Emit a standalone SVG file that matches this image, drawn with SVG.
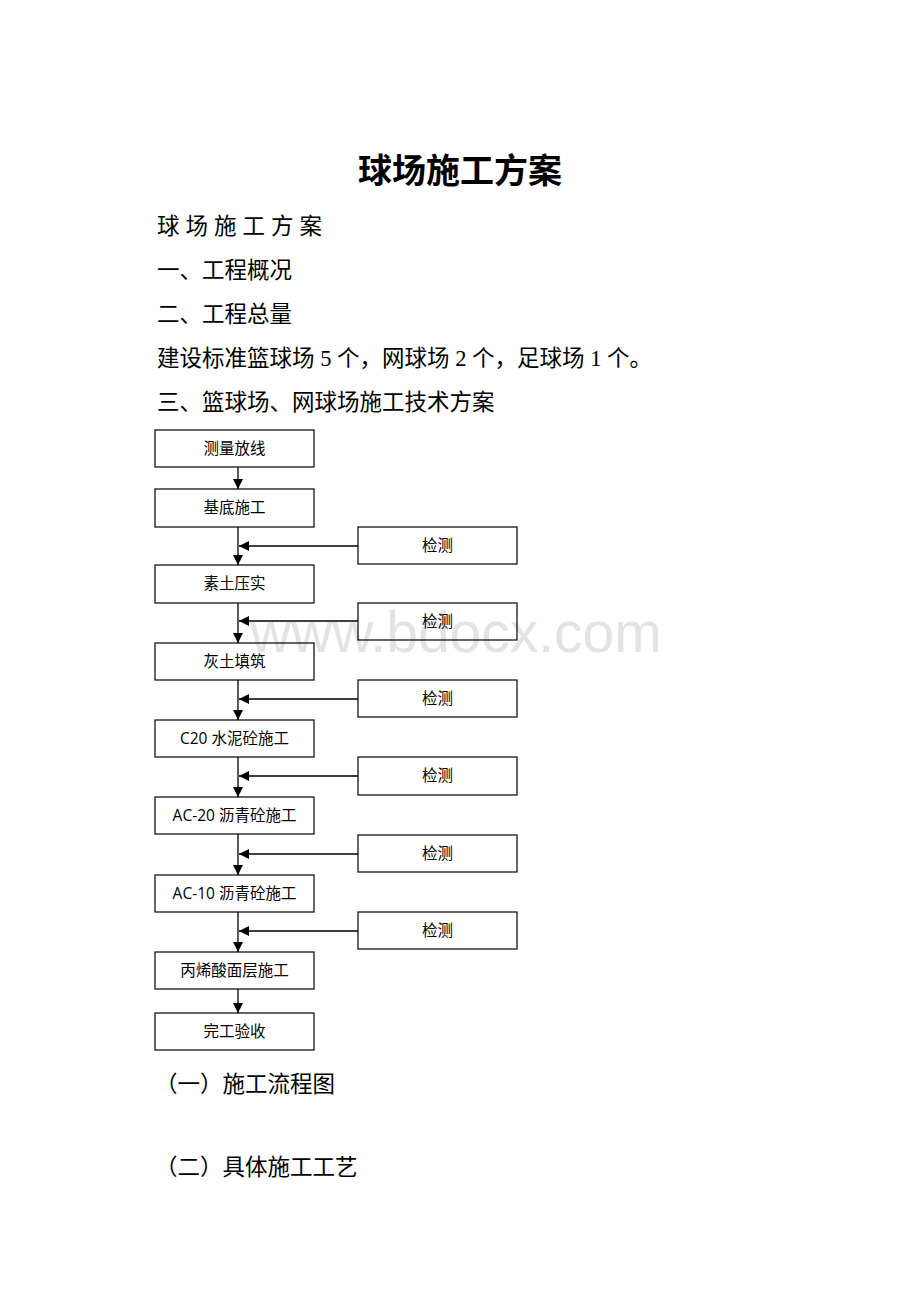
<svg xmlns="http://www.w3.org/2000/svg" width="920" height="1302" viewBox="0 0 920 1302">
<style>
.body{font-family:"Liberation Serif","Noto Sans CJK SC",serif;font-size:22.5px;fill:#000}
.title{font-family:"Liberation Serif","Noto Sans CJK SC",serif;font-size:34px;font-weight:bold;fill:#000}
.box{fill:none;stroke:#000;stroke-width:1.2}
.lbl{font-family:"Open Sans","Noto Sans CJK SC",sans-serif;font-size:15.5px;fill:#000;text-anchor:middle}
.ln{stroke:#000;stroke-width:1.3;fill:none}
.wm{font-family:"Liberation Sans",Arial,sans-serif;font-size:57px;fill:#e3e3e3}
</style>
<defs>
<marker id="ah" viewBox="0 0 10 10" refX="10" refY="5" markerWidth="10" markerHeight="10" markerUnits="userSpaceOnUse" orient="auto">
<path d="M0,0 L10,5 L0,10 z" fill="#000"/>
</marker>
</defs>
<rect width="920" height="1302" fill="#fff"/>
<text class="wm" x="250" y="652">www.bdocx.com</text>
<g id="texts">
<text class="title" x="460" y="183" text-anchor="middle">球场施工方案</text>
<text class="body" x="157" y="234" letter-spacing="6">球场施工方案</text>
<text class="body" x="157" y="278">一、工程概况</text>
<text class="body" x="157" y="322">二、工程总量</text>
<text class="body" x="157" y="366">建设标准篮球场 5 个，网球场 2 个，足球场 1 个。</text>
<text class="body" x="157" y="410">三、篮球场、网球场施工技术方案</text>
<text class="body" x="155" y="1092">（一）施工流程图</text>
<text class="body" x="155" y="1175">（二）具体施工工艺</text>
</g>
<g id="connectors">
<line class="ln" x1="238" y1="467" x2="238" y2="489" marker-end="url(#ah)"/>
<line class="ln" x1="238" y1="527" x2="238" y2="565" marker-end="url(#ah)"/>
<line class="ln" x1="238" y1="603" x2="238" y2="643" marker-end="url(#ah)"/>
<line class="ln" x1="238" y1="680" x2="238" y2="720" marker-end="url(#ah)"/>
<line class="ln" x1="238" y1="757" x2="238" y2="797" marker-end="url(#ah)"/>
<line class="ln" x1="238" y1="834" x2="238" y2="875" marker-end="url(#ah)"/>
<line class="ln" x1="238" y1="912" x2="238" y2="952" marker-end="url(#ah)"/>
<line class="ln" x1="238" y1="989" x2="238" y2="1013" marker-end="url(#ah)"/>
<line class="ln" x1="358" y1="546" x2="239" y2="546" marker-end="url(#ah)"/>
<line class="ln" x1="358" y1="621" x2="239" y2="621" marker-end="url(#ah)"/>
<line class="ln" x1="358" y1="699" x2="239" y2="699" marker-end="url(#ah)"/>
<line class="ln" x1="358" y1="776" x2="239" y2="776" marker-end="url(#ah)"/>
<line class="ln" x1="358" y1="854" x2="239" y2="854" marker-end="url(#ah)"/>
<line class="ln" x1="358" y1="931" x2="239" y2="931" marker-end="url(#ah)"/>
</g>
<g id="n1"><rect class="box" x="155" y="430" width="159" height="37"/><text class="lbl" x="234.5" y="454">测量放线</text></g>
<g id="n2"><rect class="box" x="155" y="489" width="159" height="38"/><text class="lbl" x="234.5" y="513">基底施工</text></g>
<g id="n3"><rect class="box" x="155" y="565" width="159" height="38"/><text class="lbl" x="234.5" y="589">素土压实</text></g>
<g id="n4"><rect class="box" x="155" y="643" width="159" height="37"/><text class="lbl" x="234.5" y="667">灰土填筑</text></g>
<g id="n5"><rect class="box" x="155" y="720" width="159" height="37"/><text class="lbl" x="234.5" y="744">C20 水泥砼施工</text></g>
<g id="n6"><rect class="box" x="155" y="797" width="159" height="37"/><text class="lbl" x="234.5" y="821">AC-20 沥青砼施工</text></g>
<g id="n7"><rect class="box" x="155" y="875" width="159" height="37"/><text class="lbl" x="234.5" y="899">AC-10 沥青砼施工</text></g>
<g id="n8"><rect class="box" x="155" y="952" width="159" height="37"/><text class="lbl" x="234.5" y="976">丙烯酸面层施工</text></g>
<g id="n9"><rect class="box" x="155" y="1013" width="159" height="37"/><text class="lbl" x="234.5" y="1037">完工验收</text></g>
<g id="c1"><rect class="box" x="358" y="527" width="159" height="37"/><text class="lbl" x="437.5" y="551">检测</text></g>
<g id="c2"><rect class="box" x="358" y="603" width="159" height="37"/><text class="lbl" x="437.5" y="627">检测</text></g>
<g id="c3"><rect class="box" x="358" y="680" width="159" height="37"/><text class="lbl" x="437.5" y="704">检测</text></g>
<g id="c4"><rect class="box" x="358" y="757" width="159" height="38"/><text class="lbl" x="437.5" y="781">检测</text></g>
<g id="c5"><rect class="box" x="358" y="835" width="159" height="37"/><text class="lbl" x="437.5" y="859">检测</text></g>
<g id="c6"><rect class="box" x="358" y="912" width="159" height="37"/><text class="lbl" x="437.5" y="936">检测</text></g>
</svg>
